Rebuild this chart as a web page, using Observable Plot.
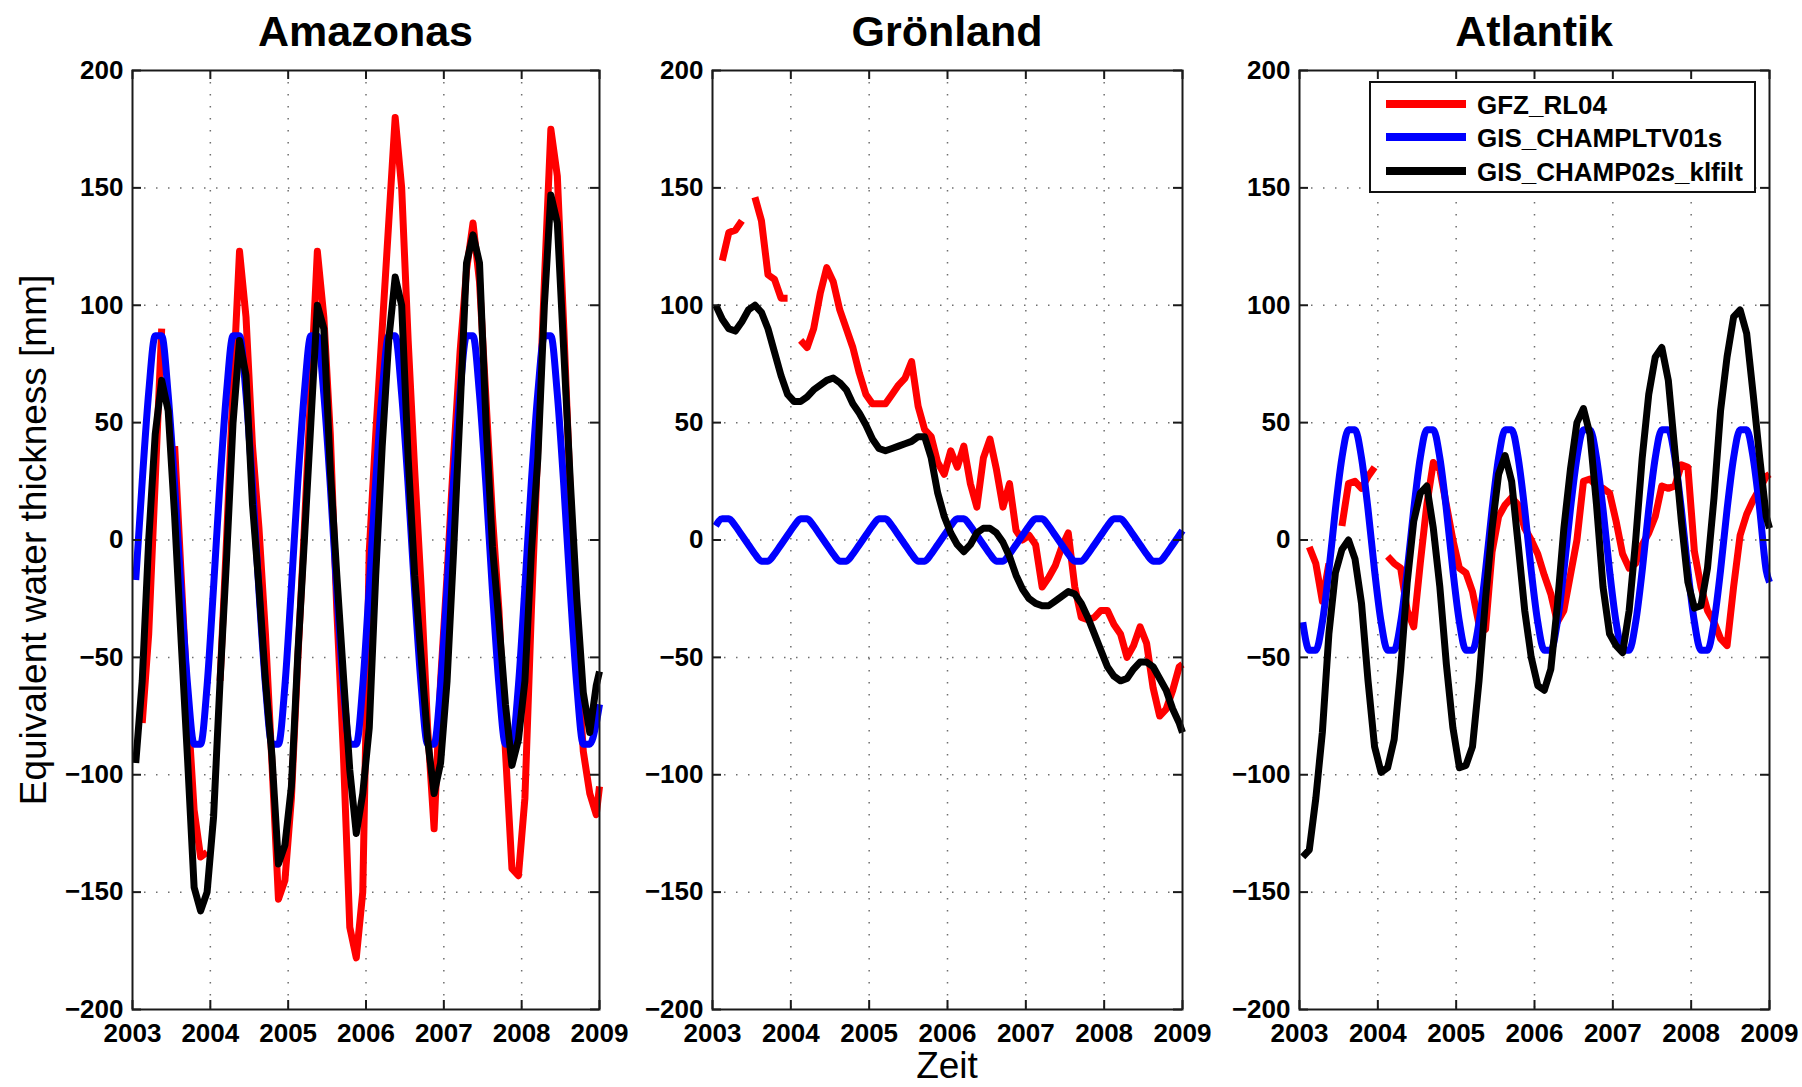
<!DOCTYPE html>
<html>
<head>
<meta charset="utf-8">
<script src="https://cdn.jsdelivr.net/npm/d3@7"></script>
<script src="https://cdn.jsdelivr.net/npm/@observablehq/plot@0.6"></script>
<style>
  html, body { margin: 0; padding: 0; background: #fff; }
  #chart {
    position: relative; width: 1802px; height: 1087px; overflow: hidden;
    font-family: "Liberation Sans", Arial, Helvetica, sans-serif; color: #000; background: #fff;
  }
  .panel { position: absolute; top: 56px; }
  .title {
    position: absolute; top: 10px; font-weight: bold; font-size: 43px; line-height: 1;
    transform: translateX(-50%); white-space: nowrap;
  }
  .ylabel {
    position: absolute; left: 33px; top: 540px; font-size: 37px; line-height: 1;
    transform: translate(-50%, -50%) rotate(-90deg); white-space: nowrap;
  }
  .xlabel {
    position: absolute; left: 947px; top: 1050px; font-size: 37px; line-height: 0.85;
    transform: translateX(-50%); white-space: nowrap;
  }
  .legend {
    position: absolute; left: 1369px; top: 81px; width: 387px; height: 112px;
    box-sizing: border-box; border: 2px solid #111; background: #fff;
  }
  .legend svg { display: block; }
</style>
</head>
<body>
<div id="chart"></div>
<script>
// Monthly GRACE/CHAMP solutions, Jan 2003 - Dec 2008 (mid-month), plus the value at 2009.0
const months = d3.range(72).map(k => 2003 + (k + 0.5) / 12).concat([2009]);

const yearTicks = [2003, 2004, 2005, 2006, 2007, 2008, 2009];
const mmTicks = [-200, -150, -100, -50, 0, 50, 100, 150, 200];
const gridYears = [2004, 2005, 2006, 2007, 2008];
const gridMm = [-150, -100, -50, 0, 50, 100, 150];

const seriesNames = ["GFZ_RL04", "GIS_CHAMPLTV01s", "GIS_CHAMP02s_klfilt"];
const seriesColors = ["#ff0000", "#0000ff", "#000000"];
const seriesCurves = ["linear", "monotone-x", "linear"];
const panelTitles = ["Amazonas", "Grönland", "Atlantik"];

// Equivalent water thickness [mm]; null = month without a solution
const amazonasGFZ = [
  null, -78, -40, 25, 90, null, 40, -15, -70, -115, -135, -133,
  null, -60, 0, 65, 123, 95, 40, 5, -40, -95, -153, -145,
  -110, -50, 5, 65, 123, 95, 45, -30, -90, -165, -178, -150,
  -5, 45, 90, 135, 180, 150, 85, 30, -20, -80, -123, -60,
  -15, 35, 80, 115, 135, 110, 60, 10, -30, -90, -140, -143,
  -110, -30, 40, 110, 175, 155, 90, 20, -45, -90, -108, -117,
  -105
];
const amazonasLTV = [
  -17, 25, 63, 87, 87, 62, 23, -22, -62, -87, -87, -62,
  -20, 25, 63, 87, 87, 62, 23, -22, -62, -87, -87, -62,
  -20, 25, 63, 87, 87, 62, 23, -22, -62, -87, -87, -62,
  -20, 25, 63, 87, 87, 62, 23, -22, -62, -87, -87, -62,
  -20, 25, 63, 87, 87, 62, 23, -22, -62, -87, -87, -62,
  -20, 25, 63, 87, 87, 62, 23, -22, -62, -87, -87, -78,
  -70
];
const amazonasKlfilt = [
  -95, -60, 0, 45, 68, 55, 10, -43, -94, -148, -158, -150,
  -118, -60, -8, 50, 85, 70, 15, -20, -60, -92, -138, -130,
  -105, -48, 0, 50, 100, 90, 30, -15, -57, -98, -125, -108,
  -80, -15, 40, 85, 112, 100, 35, -15, -50, -85, -108, -95,
  -60, -5, 55, 118, 130, 118, 50, -3, -35, -70, -96, -85,
  -60, -5, 35, 100, 147, 135, 80, 25, -25, -65, -82, -62,
  -56
];

const gronlandGFZ = [
  null, 119, 131, 132, 136, null, 146, 136, 113, 111, 103, 103,
  null, 85, 82, 90, 105, 116, 110, 98, 90, 82, 71, 62,
  58, 58, 58, 62, 66, 69, 76, 57, 47, 44, 33, 28,
  38, 31, 40, 24, 14, 35, 43, 30, 14, 24, 4, 0,
  2, -2, -20, -16, -11, -3, 3, -20, -33, -34, -33, -30,
  -30, -36, -40, -50, -45, -37, -44, -63, -75, -72, -64, -54,
  -53
];
const gronlandLTV = [
  6, 9, 9, 6, 2, -2, -6, -9, -9, -6, -2, 2,
  6, 9, 9, 6, 2, -2, -6, -9, -9, -6, -2, 2,
  6, 9, 9, 6, 2, -2, -6, -9, -9, -6, -2, 2,
  6, 9, 9, 6, 2, -2, -6, -9, -9, -6, -2, 2,
  6, 9, 9, 6, 2, -2, -6, -9, -9, -6, -2, 2,
  6, 9, 9, 6, 2, -2, -6, -9, -9, -6, -2, 2,
  4
];
const gronlandKlfilt = [
  100, 94, 90, 89, 93, 98, 100, 97, 90, 80, 70, 62,
  59, 59, 61, 64, 66, 68, 69, 67, 64, 58, 54, 49,
  43, 39, 38, 39, 40, 41, 42, 44, 44, 35, 20, 10,
  3, -2, -5, -2, 3, 5, 5, 3, -1, -7, -15, -21,
  -25, -27, -28, -28, -26, -24, -22, -23, -27, -33, -40, -47,
  -54, -58, -60, -59, -55, -52, -52, -54, -59, -64, -72, -78,
  -82
];

const atlantikGFZ = [
  null, -3, -10, -26, -10, null, 6, 24, 25, 22, 27, 31,
  null, -7, -10, -12, -30, -37, -10, 15, 33, 30, 15, 0,
  -12, -14, -22, -36, -38, -5, 10, 15, 18, 15, 5, 0,
  -6, -15, -23, -35, -30, -15, 0, 25, 26, 23, 22, 20,
  8, -6, -12, -10, -2, 3, 10, 23, 22, 23, 32, 31,
  -5, -20, -30, -35, -42, -45, -20, 2, 11, 17, 22, 27,
  28
];
const atlantikLTV = [
  -35, -47, -47, -35, -13, 13, 35, 47, 47, 35, 13, -13,
  -35, -47, -47, -35, -13, 13, 35, 47, 47, 35, 13, -13,
  -35, -47, -47, -35, -13, 13, 35, 47, 47, 35, 13, -13,
  -35, -47, -47, -35, -13, 13, 35, 47, 47, 35, 13, -13,
  -35, -47, -47, -35, -13, 13, 35, 47, 47, 35, 13, -13,
  -35, -47, -47, -35, -13, 13, 35, 47, 47, 35, 13, -13,
  -18
];
const atlantikKlfilt = [
  -135, -132, -110, -82, -40, -14, -4, 0, -8, -27, -60, -88,
  -99, -97, -85, -55, -18, 8, 20, 23, 5, -20, -53, -80,
  -97, -96, -88, -60, -25, 5, 28, 36, 25, -2, -30, -50,
  -62, -64, -55, -28, 5, 30, 50, 56, 45, 15, -20, -40,
  -45, -48, -30, 0, 35, 62, 78, 82, 68, 38, 8, -18,
  -29, -28, -12, 18, 55, 78, 95, 98, 88, 62, 35, 10,
  5
];

const FONT = '"Liberation Sans", Arial, Helvetica, sans-serif';
const svgHeight = 994, marginTop = 14, marginBottom = 41;
const tickLen = 9;

const layout = [
  {left: 60, width: 580, marginLeft: 72, marginRight: 41, series: [amazonasGFZ, amazonasLTV, amazonasKlfilt]},
  {left: 640, width: 575, marginLeft: 72, marginRight: 33, series: [gronlandGFZ, gronlandLTV, gronlandKlfilt]},
  {left: 1215, width: 587, marginLeft: 84, marginRight: 33, series: [atlantikGFZ, atlantikLTV, atlantikKlfilt]}
];

const rows = values => months.map((t, i) => ({t, v: values[i]}));
const gridStyle = {stroke: "#555", strokeOpacity: 0.85, strokeWidth: 1.5, strokeDasharray: "1.5 10.5"};
const edge = {stroke: "#1a1a1a", strokeWidth: 2};

function drawPanel(p) {
  const frameW = p.width - p.marginLeft - p.marginRight;
  const frameH = svgHeight - marginTop - marginBottom;
  return Plot.plot({
    width: p.width,
    height: svgHeight,
    marginTop, marginBottom,
    marginLeft: p.marginLeft,
    marginRight: p.marginRight,
    style: {fontFamily: FONT, fontSize: "26px", fontWeight: "bold", color: "#000", background: "#fff", overflow: "visible"},
    x: {domain: [2003, 2009]},
    y: {domain: [-200, 200]},
    marks: [
      Plot.gridX(gridYears, gridStyle),
      Plot.gridY(gridMm, gridStyle),
      ...p.series.map((values, j) => Plot.line(rows(values), {
        x: "t", y: "v", stroke: seriesColors[j], strokeWidth: 7, curve: seriesCurves[j],
        strokeLinejoin: "round", strokeLinecap: "butt"
      })),
      Plot.frame(edge),
      // inward ticks on all four sides of the box
      Plot.tickY(mmTicks, {y: d => d, ...edge, insetRight: frameW - tickLen}),
      Plot.tickY(mmTicks, {y: d => d, ...edge, insetLeft: frameW - tickLen}),
      Plot.tickX(yearTicks, {x: d => d, ...edge, insetTop: frameH - tickLen}),
      Plot.tickX(yearTicks, {x: d => d, ...edge, insetBottom: frameH - tickLen}),
      Plot.axisX(yearTicks, {tickSize: 0, tickPadding: 14, tickFormat: d => String(d), label: null}),
      Plot.axisY(mmTicks, {tickSize: 0, tickPadding: 9, tickFormat: d3.format("d"), label: null})
    ]
  });
}

const chart = document.getElementById("chart");

layout.forEach((p, i) => {
  const wrap = document.createElement("div");
  wrap.className = "panel";
  wrap.style.left = p.left + "px";
  wrap.style.width = p.width + "px";
  wrap.appendChild(drawPanel(p));
  chart.appendChild(wrap);

  const title = document.createElement("div");
  title.className = "title";
  title.textContent = panelTitles[i];
  title.style.left = (p.left + p.marginLeft + (p.width - p.marginLeft - p.marginRight) / 2) + "px";
  chart.appendChild(title);
});

const ylabel = document.createElement("div");
ylabel.className = "ylabel";
ylabel.textContent = "Equivalent water thickness [mm]";
chart.appendChild(ylabel);

const xlabel = document.createElement("div");
xlabel.className = "xlabel";
xlabel.textContent = "Zeit";
chart.appendChild(xlabel);

// Legend box inside the Atlantik panel
const legend = document.createElement("div");
legend.className = "legend";
const ls = d3.create("svg").attr("width", 383).attr("height", 108);
const rowY = [21, 54, 88];
seriesNames.forEach((name, j) => {
  ls.append("line")
    .attr("x1", 15).attr("x2", 95).attr("y1", rowY[j]).attr("y2", rowY[j])
    .attr("stroke", seriesColors[j]).attr("stroke-width", 8);
  ls.append("text")
    .attr("x", 106).attr("y", rowY[j] + 9.5)
    .attr("font-family", FONT).attr("font-size", 26).attr("font-weight", "bold")
    .attr("fill", "#000")
    .text(name);
});
legend.appendChild(ls.node());
chart.appendChild(legend);
</script>
</body>
</html>
